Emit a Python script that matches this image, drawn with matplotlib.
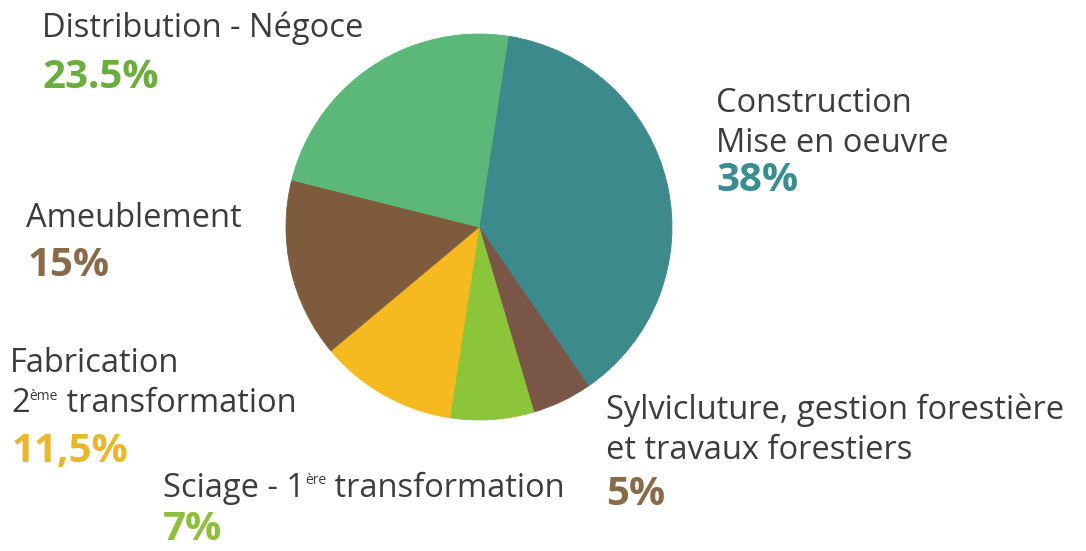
import matplotlib
matplotlib.use("Agg")
from matplotlib import pyplot as plt

# data
sectors = ["Construction Mise en oeuvre", "Sylviculture", "Sciage", "Fabrication",
           "Ameublement", "Distribution - Négoce"]
shares = [38, 5, 7, 11.5, 15, 23.5]
slice_colors = ["#3d8a8c", "#7a5646", "#8cc43a", "#f6b91f", "#7e5b3d", "#5bb878"]

W, H = 1086, 551
plt.rcParams['font.family'] = ['Open Sans', 'DejaVu Sans']

fig = plt.figure(figsize=(W / 100, H / 100), dpi=100)
ax = fig.add_axes([0, 0, 1, 1])

wedges, _ = ax.pie(shares, colors=slice_colors, startangle=81.3, counterclock=False,
                   center=(479, H - 227), radius=193)
for w in wedges:
    w.set_edgecolor(w.get_facecolor())
    w.set_linewidth(0.6)

ax.set_xlim(0, W)
ax.set_ylim(0, H)
ax.set_aspect('equal')
ax.axis('off')

LABEL = "#3c3c3c"
FS = 23.5
PFS = 29


def label(x, y, s, color=LABEL, size=FS, bold=False):
    # x, y in pixels from the top-left, y is the baseline
    return ax.text(x, H - y, s, color=color, fontsize=size, va='baseline', ha='left',
                   fontweight='bold' if bold else 'normal')


def sup_line(x, y, base, sup, rest):
    t1 = label(x, y, base)
    t2 = ax.annotate(sup, xy=(1, 0.5), xycoords=t1, va='bottom', ha='left',
                     fontsize=10, color=LABEL)
    ax.annotate(rest, xy=(1, 0), xycoords=(t2, t1), va='bottom', ha='left',
                fontsize=FS, color=LABEL)


label(42, 37, "Distribution - Négoce")
label(42, 88, "23.5%", color="#6aaf3d", size=PFS, bold=True)

label(716, 112, "Construction")
label(716, 152, "Mise en oeuvre")
label(716, 191, "38%", color="#3a8e91", size=PFS, bold=True)

label(26, 227, "Ameublement")
label(28, 276, "15%", color="#8a6b49", size=PFS, bold=True)

label(10, 372, "Fabrication")
sup_line(11, 412, "2", "ème", " transformation")
label(12, 462, "11,5%", color="#e8b72a", size=PFS, bold=True)

sup_line(163, 497, "Sciage - 1", "ère", " transformation")
label(163, 540, "7%", color="#8cbf3a", size=PFS, bold=True)

label(606, 419, "Sylvicluture, gestion forestière")
label(606, 459, "et travaux forestiers")
label(606, 505, "5%", color="#8a6b49", size=PFS, bold=True)

fig.savefig("out.png", dpi=100)
